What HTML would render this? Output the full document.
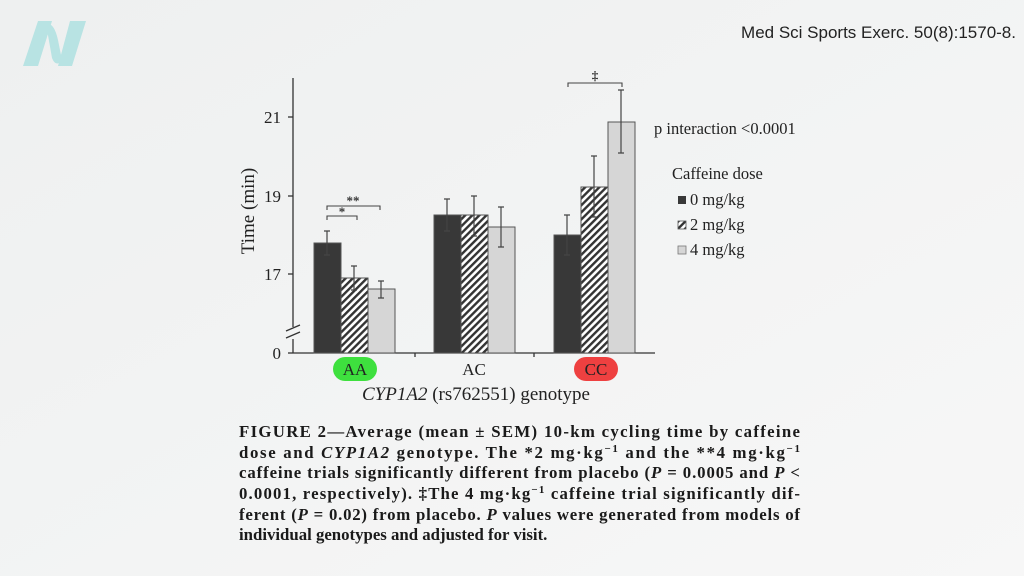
<!DOCTYPE html>
<html><head><meta charset="utf-8"><style>
html,body{margin:0;padding:0;width:1024px;height:576px;overflow:hidden;background:#f3f4f4}
</style></head><body>
<svg width="1024" height="576" xmlns="http://www.w3.org/2000/svg" font-family="Liberation Serif, serif">
<defs>
<linearGradient id="bg" x1="0" y1="0" x2="1" y2="1"><stop offset="0" stop-color="#eef0f0"/><stop offset="1" stop-color="#f7f7f7"/></linearGradient>
<pattern id="h" width="5" height="5" patternUnits="userSpaceOnUse" patternTransform="rotate(45)"><rect width="5" height="5" fill="#fff"/><rect width="2.4" height="5" fill="#333"/></pattern>
</defs>
<rect width="1024" height="576" fill="url(#bg)"/>
<path d="M38 21 L52 21 L38 66 L23 66 Z M70 21 L86 21 L72 66 L58 66 Z M46 24 Q54 22 58 40 L62 60 Q56 68 52 58 Z" fill="#b8e3e3"/>
<text x="1016" y="38" text-anchor="end" font-family="Liberation Sans, sans-serif" font-size="17" fill="#222">Med Sci Sports Exerc. 50(8):1570-8.</text>
<g stroke="#333" stroke-width="1.3" fill="none">
<line x1="293" y1="78" x2="293" y2="353"/>
<line x1="293" y1="353" x2="655" y2="353"/>
<line x1="288" y1="117" x2="293" y2="117"/><line x1="288" y1="196" x2="293" y2="196"/><line x1="288" y1="274" x2="293" y2="274"/><line x1="288" y1="353" x2="293" y2="353"/>
<line x1="415" y1="353" x2="415" y2="357"/><line x1="534" y1="353" x2="534" y2="357"/>
</g>
<rect x="288" y="327" width="10" height="12" fill="#f3f4f4"/>
<path d="M286 331 L300 325 M286 338 L300 332" stroke="#333" stroke-width="1.3"/>
<g font-size="17" fill="#222" text-anchor="end">
<text x="281" y="123">21</text><text x="281" y="202">19</text><text x="281" y="280">17</text><text x="281" y="359">0</text>
</g>
<text transform="translate(254,211) rotate(-90)" text-anchor="middle" font-size="19" fill="#222">Time (min)</text>
<g stroke="#555" stroke-width="1">
<rect x="314" y="243" width="27" height="110" fill="#383838"/>
<rect x="341" y="278" width="27" height="75" fill="url(#h)"/>
<rect x="368" y="289" width="27" height="64" fill="#d6d6d6"/>
<rect x="434" y="215" width="27" height="138" fill="#383838"/>
<rect x="461" y="215" width="27" height="138" fill="url(#h)"/>
<rect x="488" y="227" width="27" height="126" fill="#d6d6d6"/>
<rect x="554" y="235" width="27" height="118" fill="#383838"/>
<rect x="581" y="187" width="27" height="166" fill="url(#h)"/>
<rect x="608" y="122" width="27" height="231" fill="#d6d6d6"/>
</g>
<g stroke="#444" stroke-width="1.2">
<path d="M327 231V255M324 231h6M324 255h6"/>
<path d="M354 266V290M351 266h6M351 290h6"/>
<path d="M381 281V298M378 281h6M378 298h6"/>
<path d="M447 199V231M444 199h6M444 231h6"/>
<path d="M474 196V236M471 196h6M471 236h6"/>
<path d="M501 207V247M498 207h6M498 247h6"/>
<path d="M567 215V255M564 215h6M564 255h6"/>
<path d="M594 156V217M591 156h6M591 217h6"/>
<path d="M621 90V153M618 90h6M618 153h6"/>
</g>
<g stroke="#444" stroke-width="1.1" fill="none">
<path d="M327 210V206H380V210"/><path d="M327 220V216H357V220"/><path d="M568 87V83H622V87"/>
</g>
<g font-size="13" fill="#333" text-anchor="middle" font-weight="bold">
<text x="353" y="205">**</text><text x="342" y="216">*</text><text x="595" y="80">‡</text>
</g>
<rect x="333" y="357" width="44" height="24" rx="12" fill="#3ee03e"/>
<rect x="574" y="357" width="44" height="24" rx="12" fill="#ee4040"/>
<g font-size="17" fill="#222" text-anchor="middle">
<text x="355" y="375">AA</text><text x="474" y="375">AC</text><text x="596" y="375">CC</text>
<text x="476" y="400" font-size="19"><tspan font-style="italic">CYP1A2</tspan> (rs762551) genotype</text>
</g>
<g font-size="16.5" fill="#222">
<text x="654" y="134">p interaction &lt;0.0001</text>
<text x="672" y="179">Caffeine dose</text>
<text x="690" y="205">0 mg/kg</text><text x="690" y="230">2 mg/kg</text><text x="690" y="255">4 mg/kg</text>
</g>
<rect x="678" y="196" width="8" height="8" fill="#383838"/>
<rect x="678" y="221" width="8" height="8" fill="url(#h)" stroke="#555" stroke-width=".8"/>
<rect x="678" y="246" width="8" height="8" fill="#d6d6d6" stroke="#777" stroke-width=".8"/>
<g font-size="16.8" font-weight="bold" fill="#1a1a1a">
<text x="239" y="437" textLength="561" lengthAdjust="spacing">FIGURE 2—Average (mean ± SEM) 10-km cycling time by caffeine</text>
<text x="239" y="458" textLength="561" lengthAdjust="spacing">dose and <tspan font-style="italic">CYP1A2</tspan> genotype. The *2 mg·kg<tspan dy="-6" font-size="11">−1</tspan><tspan dy="6"> and the **4 mg·kg</tspan><tspan dy="-6" font-size="11">−1</tspan></text>
<text x="239" y="478" textLength="561" lengthAdjust="spacing">caffeine trials significantly different from placebo (<tspan font-style="italic">P</tspan> = 0.0005 and <tspan font-style="italic">P</tspan> &lt;</text>
<text x="239" y="499" textLength="561" lengthAdjust="spacing">0.0001, respectively). ‡The 4 mg·kg<tspan dy="-6" font-size="11">−1</tspan><tspan dy="6"> caffeine trial significantly dif-</tspan></text>
<text x="239" y="520" textLength="561" lengthAdjust="spacing">ferent (<tspan font-style="italic">P</tspan> = 0.02) from placebo. <tspan font-style="italic">P</tspan> values were generated from models of</text>
<text x="239" y="540">individual genotypes and adjusted for visit.</text>
</g>
</svg>
</body></html>
